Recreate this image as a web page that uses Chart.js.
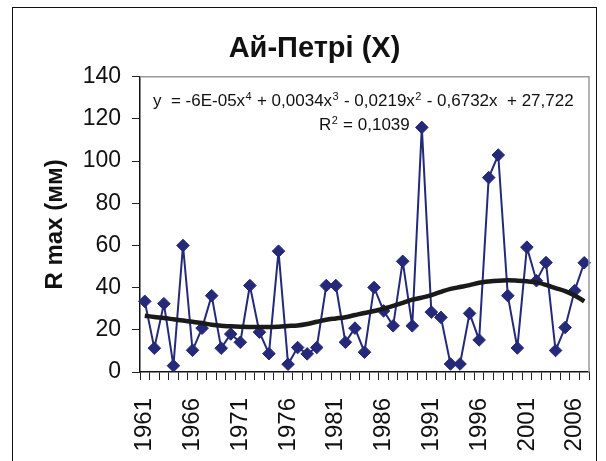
<!DOCTYPE html>
<html>
<head>
<meta charset="utf-8">
<script src="https://cdn.jsdelivr.net/npm/chart.js@4/dist/chart.umd.min.js"></script>
<style>
  html, body { margin: 0; padding: 0; background: #fff; }
  #wrap { position: relative; width: 606px; height: 461px; overflow: hidden; }
  #frame { position: absolute; left: 12px; top: 7px; width: 585px; height: 470px; border: 1.5px solid #111; box-sizing: border-box; }
  #c { position: absolute; left: 0; top: 0; }
</style>
</head>
<body>
<div id="wrap">
  <div id="frame"></div>
  <canvas id="c" width="606" height="461"></canvas>
</div>
<script>
// ---- data ----
const years = [1961,1962,1963,1964,1965,1966,1967,1968,1969,1970,1971,1972,1973,1974,1975,1976,1977,1978,1979,1980,
  1981,1982,1983,1984,1985,1986,1987,1988,1989,1990,1991,1992,1993,1994,1995,1996,1997,1998,1999,2000,
  2001,2002,2003,2004,2005,2006,2007];
const rMax = [33.5, 11.3, 32.4, 3.0, 60.0, 10.3, 20.8, 36.2, 11.3, 18.0, 14.1, 41.0, 18.9, 8.7, 57.3, 3.7, 11.6, 8.6, 11.6, 41.0,
  41.0, 14.1, 20.8, 9.4, 40.1, 29.0, 21.9, 52.5, 21.9, 116.0, 28.4, 25.9, 3.8, 3.8, 27.8, 15.2, 92.2, 102.9, 36.2, 11.4,
  59.2, 43.3, 51.9, 10.2, 21.1, 38.6, 51.8];
const trend = [26.7, 26.1, 25.6, 25.0, 24.4, 23.8, 23.2, 22.4, 21.9, 21.7, 21.5, 21.3, 21.3, 21.3, 21.5, 21.8, 22.1, 22.8, 23.8, 24.8,
  25.4, 26.0, 27.0, 28.0, 28.9, 30.1, 31.4, 32.8, 34.3, 35.3, 36.5, 38.0, 39.4, 40.3, 41.2, 42.3, 42.9, 43.3, 43.5, 43.3,
  43.0, 42.5, 41.3, 39.8, 38.4, 36.3, 33.5];
const yTicks = [0, 20, 40, 60, 80, 100, 120, 140];
const labelYears = [1961, 1966, 1971, 1976, 1981, 1986, 1991, 1996, 2001, 2006];
const titleText = 'Ай-Петрі (Х)';
const yTitle = 'R max (мм)';
const eqParts = [['y  = -6E-05x', '4'], [' + 0,0034x', '3'], [' - 0,0219x', '2'], [' - 0,6732x  + 27,722', '']];
const r2Parts = [['R', '2'], [' = 0,1039', '']];

const FONT = "'Liberation Sans', Arial, sans-serif";

const decor = {
  id: 'decor',
  afterDraw(chart) {
    const ctx = chart.ctx, a = chart.chartArea;
    ctx.save();
    // gray top/right frame
    ctx.strokeStyle = '#9a9a9a';
    ctx.lineWidth = 1.5;
    ctx.beginPath();
    ctx.moveTo(a.left, a.top);
    ctx.lineTo(a.right, a.top);
    ctx.lineTo(a.right, a.bottom);
    ctx.stroke();
    // equation text
    function drawParts(parts, x, y) {
      ctx.textBaseline = 'alphabetic';
      ctx.textAlign = 'left';
      ctx.fillStyle = '#111';
      for (const [t, s] of parts) {
        ctx.font = '17px ' + FONT;
        ctx.fillText(t, x, y);
        x += ctx.measureText(t).width;
        if (s) {
          ctx.font = '11px ' + FONT;
          ctx.fillText(s, x + 0.5, y - 6);
          x += ctx.measureText(s).width + 1;
        }
      }
    }
    drawParts(eqParts, a.left + 13, a.top + 29);
    drawParts(r2Parts, a.left + 179, a.top + 53);
    ctx.restore();
  }
};

new Chart(document.getElementById('c'), {
  type: 'line',
  data: {
    labels: years,
    datasets: [
      {
        label: 'trend',
        data: trend,
        borderColor: '#1a1a1a',
        borderWidth: 4.5,
        pointRadius: 0,
        tension: 0.3,
        fill: false
      },
      {
        label: 'R max',
        data: rMax,
        borderColor: '#24297a',
        backgroundColor: '#24297a',
        borderWidth: 2,
        pointStyle: 'rectRot',
        pointRadius: 6.3,
        pointBorderWidth: 1,
        tension: 0,
        fill: false
      }
    ]
  },
  options: {
    responsive: false,
    animation: false,
    layout: { padding: { left: 40, right: 17, top: 0, bottom: 0 } },
    plugins: {
      legend: { display: false },
      tooltip: { enabled: false },
      title: {
        display: true,
        text: titleText,
        color: '#111',
        font: { family: FONT, size: 29, weight: 'bold', lineHeight: 1.2 },
        padding: { top: 32, bottom: 10 }
      }
    },
    scales: {
      x: {
        type: 'category',
        offset: true,
        grid: { display: true, offset: true, drawOnChartArea: false, tickLength: 8, color: '#222', lineWidth: 1 },
        border: { display: true, color: '#111', width: 1.5 },
        ticks: {
          autoSkip: false,
          maxRotation: 90,
          minRotation: 90,
          padding: 18,
          color: '#111',
          font: { family: FONT, size: 24 },
          callback: function(v, i) { const yr = years[i]; return labelYears.includes(yr) ? String(yr) : ''; }
        },
        afterFit(scale) { scale.height = 89; scale.paddingLeft = 0; scale.paddingRight = 0; }
      },
      y: {
        min: 0,
        max: 140,
        afterBuildTicks(scale) { scale.ticks = yTicks.map(v => ({ value: v })); },
        grid: { display: true, drawOnChartArea: false, tickLength: 8, color: '#222', lineWidth: 1 },
        border: { display: true, color: '#111', width: 1.5 },
        ticks: { padding: 11, color: '#111', font: { family: FONT, size: 23 } },
        title: {
          display: true,
          text: yTitle,
          color: '#111',
          font: { family: FONT, size: 24, weight: 'bold', lineHeight: 1.2 },
          padding: { top: 1, bottom: 0 }
        },
        afterFit(scale) { scale.width = 100; }
      }
    }
  },
  plugins: [decor]
});
</script>
</body>
</html>
